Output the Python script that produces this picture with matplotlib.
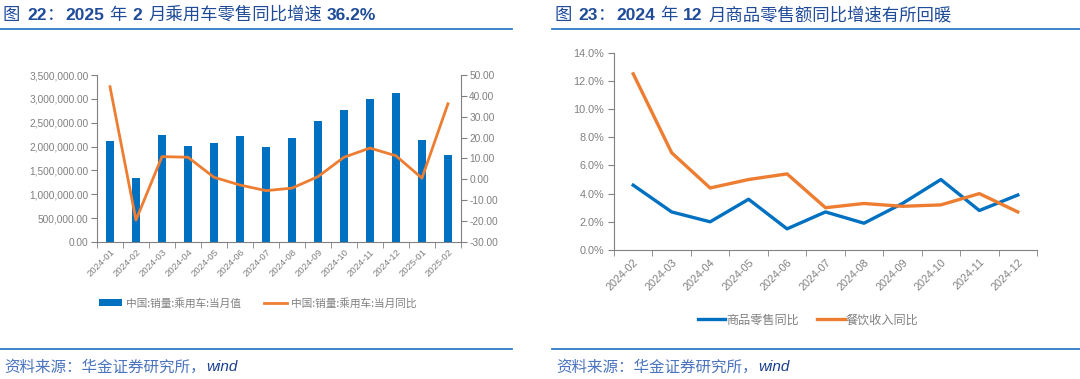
import numpy as np
import matplotlib
matplotlib.use("Agg")
import matplotlib.pyplot as plt
from matplotlib.lines import Line2D
from matplotlib.patches import Patch
from matplotlib.font_manager import FontProperties
from matplotlib.ticker import FuncFormatter, MultipleLocator

plt.rcParams['font.family'] = ['Liberation Sans', 'Noto Sans CJK SC', 'DejaVu Sans']

# left chart data
months_l = ['2024-01', '2024-02', '2024-03', '2024-04', '2024-05', '2024-06', '2024-07',
            '2024-08', '2024-09', '2024-10', '2024-11', '2024-12', '2025-01', '2025-02']
sales = [2117000, 1335000, 2236000, 2006000, 2075000, 2215000, 1998000,
         2186000, 2530000, 2760000, 3000000, 3120000, 2140000, 1817000]
sales_yoy = [44.4, -19.5, 10.9, 10.6, 1.0, -2.7, -5.4,
             -4.2, 1.3, 10.6, 15.0, 11.3, 0.6, 36.2]

# right chart data
months_r = ['2024-02', '2024-03', '2024-04', '2024-05', '2024-06', '2024-07',
            '2024-08', '2024-09', '2024-10', '2024-11', '2024-12']
goods_yoy = [4.6, 2.7, 2.0, 3.6, 1.5, 2.7, 1.9, 3.3, 5.0, 2.8, 3.9]
catering_yoy = [12.5, 6.9, 4.4, 5.0, 5.4, 3.0, 3.3, 3.1, 3.2, 4.0, 2.7]

BLUE = '#0070c0'
ORANGE = '#ed7d31'
GRAY = '#808080'
TITLE_C = '#1f4b99'
RULE_C = '#2e7dc4'
W, H = 1080, 379

fig = plt.figure(figsize=(10.8, 3.79), dpi=100)

# ---------- left chart ----------
ax1 = fig.add_axes([0.0898, 0.3615, 0.337, 0.4406])
x = np.arange(len(months_l))
ax1.bar(x, sales, width=0.32, color=BLUE, zorder=2)
ax1.set_xlim(-0.5, len(months_l) - 0.5)
ax1.set_ylim(0, 3500000)
ax1.yaxis.set_major_locator(MultipleLocator(500000))
ax1.yaxis.set_major_formatter(FuncFormatter(lambda v, p: f'{v:,.2f}'))
ax1.set_xticks(x)
ax1.set_xticklabels(months_l, rotation=45, ha='right', rotation_mode='anchor')
ax1.set_xticks(np.arange(-0.5, len(months_l)), minor=True)
ax1.tick_params(axis='x', which='major', length=0, pad=4, labelsize=6.8, labelcolor=GRAY)
ax1.tick_params(axis='x', which='minor', length=4, color=GRAY, direction='out')
ax1.tick_params(axis='y', length=4, color=GRAY, labelsize=7.3, labelcolor=GRAY, pad=2)
for s in ['top', 'right']:
    ax1.spines[s].set_visible(False)
for s in ['left', 'bottom']:
    ax1.spines[s].set_color(GRAY)

ax2 = ax1.twinx()
ax2.plot(x, sales_yoy, color=ORANGE, lw=2.0, zorder=3)
ax2.set_ylim(-30, 50)
ax2.yaxis.set_major_locator(MultipleLocator(10))
ax2.yaxis.set_major_formatter(FuncFormatter(lambda v, p: f'{v:.2f}'))
ax2.tick_params(axis='y', length=4, color=GRAY, labelsize=7.3, labelcolor=GRAY, pad=2)
for s in ['top', 'left', 'bottom']:
    ax2.spines[s].set_visible(False)
ax2.spines['right'].set_color(GRAY)

h1 = [Patch(facecolor=BLUE, edgecolor='none'), Line2D([], [], color=ORANGE, lw=2.0)]
fig.legend(h1, ['中国:销量:乘用车:当月值', '中国:销量:乘用车:当月同比'],
           loc='center', bbox_to_anchor=(0.2384, 0.20), ncol=2, frameon=False,
           prop=FontProperties(family=['Noto Sans CJK SC'], size=7.7),
           labelcolor=GRAY, handlelength=2.2, handleheight=0.6, columnspacing=2.2,
           handletextpad=0.3)

# ---------- right chart ----------
ax3 = fig.add_axes([0.5685, 0.3404, 0.3917, 0.5206])
xr = np.arange(len(months_r))
ax3.plot(xr, goods_yoy, color=BLUE, lw=2.4, label='商品零售同比')
ax3.plot(xr, catering_yoy, color=ORANGE, lw=2.4, label='餐饮收入同比')
ax3.set_xlim(-0.5, len(months_r) - 0.5)
ax3.set_ylim(0, 14)
ax3.yaxis.set_major_locator(MultipleLocator(2))
ax3.yaxis.set_major_formatter(FuncFormatter(lambda v, p: f'{v:.1f}%'))
ax3.set_xticks(xr)
ax3.set_xticklabels(months_r, rotation=45, ha='right', rotation_mode='anchor')
ax3.set_xticks(np.arange(-0.5, len(months_r)), minor=True)
ax3.tick_params(axis='x', which='major', length=0, pad=5, labelsize=7.8, labelcolor=GRAY)
ax3.tick_params(axis='x', which='minor', length=4, color=GRAY, direction='out')
ax3.tick_params(axis='y', length=4, color=GRAY, labelsize=7.8, labelcolor=GRAY, pad=3)
for s in ['top', 'right']:
    ax3.spines[s].set_visible(False)
for s in ['left', 'bottom']:
    ax3.spines[s].set_color(GRAY)

fig.legend(*ax3.get_legend_handles_labels(), loc='center', bbox_to_anchor=(0.748, 0.156),
           ncol=2, frameon=False, prop=FontProperties(family=['Noto Sans CJK SC'], size=8.7),
           labelcolor=GRAY, handlelength=2.3, columnspacing=1.5, handletextpad=0.05)

# ---------- titles, rules, footers ----------
renderer = fig.canvas.get_renderer()

def pieces(x_px, y_px, parts):
    # parts: (text, style, gap after in px)
    for s, kind, gap in parts:
        if kind == 'cjk':
            kw = dict(family=['Noto Sans CJK SC'], fontsize=12.5, color=TITLE_C)
        elif kind == 'num':
            kw = dict(family=['Liberation Sans'], fontsize=12.5, weight='bold', color=TITLE_C)
        elif kind == 'src':
            kw = dict(family=['Noto Sans CJK SC'], fontsize=11.2, color='#4a74bd')
        else:
            kw = dict(family=['Liberation Sans'], fontsize=11, style='italic', color='#1b3f8f')
        t = fig.text(x_px / W, 1 - y_px / H, s, va='center', ha='left', **kw)
        x_px = t.get_window_extent(renderer).x1 + gap

pieces(3, 15, [('图', 'cjk', 7), ('22', 'num', 0), ('：', 'cjk', 1), ('2025', 'num', 5),
               ('年', 'cjk', 6), ('2', 'num', 6), ('月乘用车零售同比增速', 'cjk', 5),
               ('36.2%', 'num', 0)])
pieces(554, 15, [('图', 'cjk', 7), ('23', 'num', 0), ('：', 'cjk', 1), ('2024', 'num', 5),
                 ('年', 'cjk', 6), ('12', 'num', 6), ('月商品零售额同比增速有所回暖', 'cjk', 0)])

for x0, x1 in [(0, 512), (552, 1080)]:
    fig.add_artist(Line2D([x0 / W, x1 / W], [1 - 29 / H] * 2, color=RULE_C, lw=1.3))
for x0, x1 in [(0, 512), (552, 1080)]:
    fig.add_artist(Line2D([x0 / W, x1 / W], [1 - 349 / H] * 2, color=RULE_C, lw=1.3))

for xs in [4, 556]:
    pieces(xs, 367, [('资料来源：华金证券研究所，', 'src', 1), ('wind', 'wind', 0)])

fig.savefig('out.png', dpi=100)
